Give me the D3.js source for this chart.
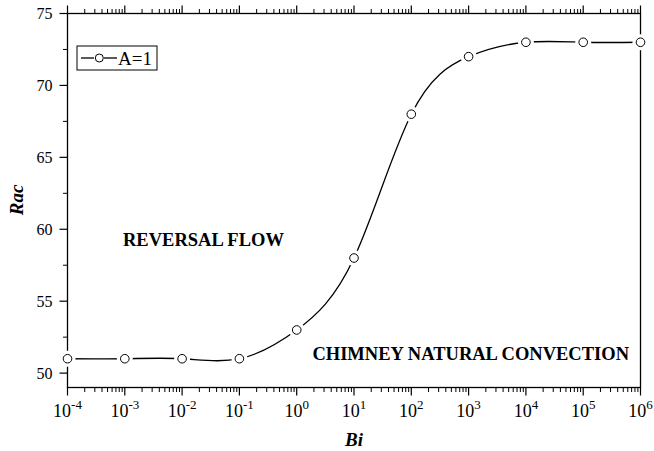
<!DOCTYPE html>
<html>
<head>
<meta charset="utf-8">
<script src="https://cdn.jsdelivr.net/npm/d3@7"></script>
<style>
  body { margin: 0; background: #fff; }
  text { font-family: "Liberation Serif", "Times New Roman", serif; fill: #000; }
</style>
</head>
<body>
<svg id="chart" width="654" height="451"></svg>
<script>
// values
var biValues = [1e-4, 1e-3, 1e-2, 1e-1, 1, 10, 100, 1e3, 1e4, 1e5, 1e6];
var racValues = [51, 51, 51, 51, 53, 58, 68, 72, 73, 73, 73];
var yTicks = [50, 55, 60, 65, 70, 75];
var xExponents = [-4, -3, -2, -1, 0, 1, 2, 3, 4, 5, 6];
var seriesName = "A=1";

var width = 654, height = 451;
var margin = {left: 67.5, right: 13.5, top: 13.5, bottom: 63.5};

var svg = d3.select("#chart");

var x = d3.scaleLog()
    .domain([1e-4, 1e6])
    .range([margin.left, width - margin.right]);

var y = d3.scaleLinear()
    .domain([49, 75])
    .range([height - margin.bottom, margin.top]);

var minorX = [];
for (var e = -4; e < 6; e++) {
  for (var k = 2; k <= 9; k++) minorX.push(k * Math.pow(10, e));
}
var minorY = d3.range(52.5, 75, 5);

// frame
svg.append("rect")
    .attr("x", margin.left)
    .attr("y", margin.top)
    .attr("width", width - margin.left - margin.right)
    .attr("height", height - margin.top - margin.bottom)
    .attr("fill", "none")
    .attr("stroke", "#000")
    .attr("stroke-width", 1.3);

// bottom axis (ticks outward, down)
var bottomAx = svg.append("g").attr("transform", "translate(0," + (height - margin.bottom) + ")");
bottomAx.selectAll(".maj").data(xExponents).enter().append("line")
    .attr("x1", function (d) { return x(Math.pow(10, d)); })
    .attr("x2", function (d) { return x(Math.pow(10, d)); })
    .attr("y1", 0).attr("y2", 8)
    .attr("stroke", "#000").attr("stroke-width", 1.2);
bottomAx.selectAll(".min").data(minorX).enter().append("line")
    .attr("x1", function (d) { return x(d); })
    .attr("x2", function (d) { return x(d); })
    .attr("y1", 0).attr("y2", 4.5)
    .attr("stroke", "#000").attr("stroke-width", 1);

var lbl = bottomAx.selectAll(".lbl").data(xExponents).enter().append("text")
    .attr("x", function (d) { return x(Math.pow(10, d)); })
    .attr("y", 29)
    .attr("text-anchor", "middle")
    .attr("font-size", 18);
lbl.append("tspan").text("10");
lbl.append("tspan")
    .attr("dy", -7.5)
    .attr("font-size", 13)
    .text(function (d) { return d; });

// top axis (ticks outward, up)
var topAx = svg.append("g").attr("transform", "translate(0," + margin.top + ")");
topAx.selectAll(".maj").data(xExponents).enter().append("line")
    .attr("x1", function (d) { return x(Math.pow(10, d)); })
    .attr("x2", function (d) { return x(Math.pow(10, d)); })
    .attr("y1", 0).attr("y2", -8)
    .attr("stroke", "#000").attr("stroke-width", 1.2);
topAx.selectAll(".min").data(minorX).enter().append("line")
    .attr("x1", function (d) { return x(d); })
    .attr("x2", function (d) { return x(d); })
    .attr("y1", 0).attr("y2", -4.5)
    .attr("stroke", "#000").attr("stroke-width", 1);

// left axis
var leftAx = svg.append("g").attr("transform", "translate(" + margin.left + ",0)");
leftAx.selectAll(".maj").data(yTicks).enter().append("line")
    .attr("y1", function (d) { return y(d); })
    .attr("y2", function (d) { return y(d); })
    .attr("x1", 0).attr("x2", -8)
    .attr("stroke", "#000").attr("stroke-width", 1.2);
leftAx.selectAll(".min").data(minorY).enter().append("line")
    .attr("y1", function (d) { return y(d); })
    .attr("y2", function (d) { return y(d); })
    .attr("x1", 0).attr("x2", -4.5)
    .attr("stroke", "#000").attr("stroke-width", 1);
leftAx.selectAll(".lbl").data(yTicks).enter().append("text")
    .attr("x", -15)
    .attr("y", function (d) { return y(d); })
    .attr("dy", "0.35em")
    .attr("text-anchor", "end")
    .attr("font-size", 16)
    .text(function (d) { return d; });

// axis titles
svg.append("text")
    .attr("x", 354)
    .attr("y", 446)
    .attr("text-anchor", "middle")
    .attr("font-size", 19)
    .attr("font-weight", "bold")
    .attr("font-style", "italic")
    .text("Bi");

svg.append("text")
    .attr("transform", "translate(23,200) rotate(-90)")
    .attr("text-anchor", "middle")
    .attr("font-size", 19)
    .attr("font-weight", "bold")
    .attr("font-style", "italic")
    .text("Rac");

// curve
var pts = biValues.map(function (b, i) { return [b, racValues[i]]; });
var line = d3.line()
    .x(function (d) { return x(d[0]); })
    .y(function (d) { return y(d[1]); })
    .curve(d3.curveNatural);

svg.append("path")
    .attr("d", line(pts))
    .attr("fill", "none")
    .attr("stroke", "#000")
    .attr("stroke-width", 1.3);

// white halo around markers, then markers
svg.selectAll(".halo").data(pts).enter().append("circle")
    .attr("cx", function (d) { return x(d[0]); })
    .attr("cy", function (d) { return y(d[1]); })
    .attr("r", 8)
    .attr("fill", "#fff");
svg.selectAll(".pt").data(pts).enter().append("circle")
    .attr("cx", function (d) { return x(d[0]); })
    .attr("cy", function (d) { return y(d[1]); })
    .attr("r", 4.3)
    .attr("fill", "#fff")
    .attr("stroke", "#000")
    .attr("stroke-width", 1);

// legend
var lg = svg.append("g").attr("transform", "translate(77,46)");
lg.append("rect")
    .attr("width", 80).attr("height", 24)
    .attr("fill", "#fff").attr("stroke", "#000").attr("stroke-width", 1);
lg.append("line")
    .attr("x1", 4).attr("x2", 17).attr("y1", 12).attr("y2", 12)
    .attr("stroke", "#000").attr("stroke-width", 1.3);
lg.append("line")
    .attr("x1", 27).attr("x2", 40).attr("y1", 12).attr("y2", 12)
    .attr("stroke", "#000").attr("stroke-width", 1.3);
lg.append("circle")
    .attr("cx", 22.3).attr("cy", 12).attr("r", 4)
    .attr("fill", "#fff").attr("stroke", "#000");
lg.append("text")
    .attr("x", 41).attr("y", 18.5)
    .attr("font-size", 19)
    .text(seriesName);

// region annotations
svg.append("text")
    .attr("x", 123).attr("y", 246)
    .attr("font-size", 18.5)
    .attr("font-weight", "bold")
    .text("REVERSAL FLOW");
svg.append("text")
    .attr("x", 629).attr("y", 360)
    .attr("text-anchor", "end")
    .attr("font-size", 18.5)
    .attr("font-weight", "bold")
    .text("CHIMNEY NATURAL CONVECTION");
</script>
</body>
</html>
